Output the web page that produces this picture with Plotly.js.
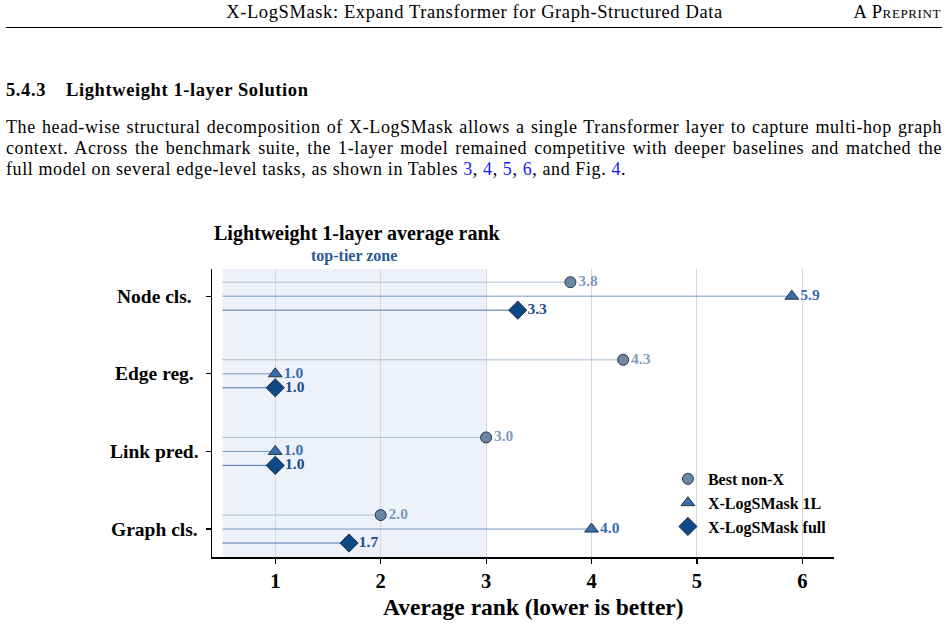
<!DOCTYPE html>
<html>
<head>
<meta charset="utf-8">
<script src="https://cdn.plot.ly/plotly-3.0.1.min.js"></script>
<style>
  html, body { margin: 0; padding: 0; background: #fff; }
  body { width: 948px; height: 626px; position: relative; overflow: hidden;
         font-family: "Liberation Serif", "DejaVu Serif", serif; color: #000; }
  .runhead { position: absolute; top: 2px; left: 0; width: 948px; height: 22px;
             font-size: 18.5px; letter-spacing: 0.6px; }
  .runhead .title { position: absolute; left: 0; width: 949px; text-align: center; top: 0; }
  .runhead .pre { position: absolute; right: 7px; top: 0; font-variant: small-caps; letter-spacing: 0.6px; }
  .rule { position: absolute; top: 27px; left: 6px; width: 936px; height: 0; border-top: 1.2px solid #000; }
  h3 { position: absolute; margin: 0; top: 80px; left: 6px; font-size: 18.5px; font-weight: bold;
       letter-spacing: 0.6px; }
  h3 .num { margin-right: 20px; }
  .para { position: absolute; top: 117px; left: 6px; width: 936px; font-size: 18px;
          letter-spacing: 0.6px; line-height: 21px; }
  .para .ln { height: 21px; white-space: nowrap; text-align: justify; text-align-last: justify; }
  .para .ln.last { text-align-last: left; }
  .para a { color: #1a1aff; text-decoration: none; }
  #chart { position: absolute; left: 0; top: 215px; width: 948px; height: 411px; }
</style>
</head>
<body>
<div class="runhead"><span class="title">X-LogSMask: Expand Transformer for Graph-Structured Data</span><span class="pre">A Preprint</span></div>
<div class="rule"></div>
<h3><span class="num">5.4.3</span>Lightweight 1-layer Solution</h3>
<div class="para">
  <div class="ln">The head-wise structural decomposition of X-LogSMask allows a single Transformer layer to capture multi-hop graph</div>
  <div class="ln">context. Across the benchmark suite, the 1-layer model remained competitive with deeper baselines and matched the</div>
  <div class="ln last">full model on several edge-level tasks, as shown in Tables <a href="#">3</a>, <a href="#">4</a>, <a href="#">5</a>, <a href="#">6</a>, and Fig. <a href="#">4</a>.</div>
</div>
<div id="chart"></div>
<script>
// Task families (top to bottom) and average ranks per model
const tasks = ["Node cls.", "Edge reg.", "Link pred.", "Graph cls."];
const bestNonX = [3.8, 4.3, 3.0, 2.0];
const xls1L = [5.9, 1.0, 1.0, 4.0];
const xlsFull = [3.3, 1.0, 1.0, 1.7];
const seriesNames = ["Best non-X", "X-LogSMask 1L", "X-LogSMask full"];
const xTicks = [1, 2, 3, 4, 5, 6];
const stemStart = 0.5;
const zoneEnd = 3;

const serif = "Liberation Serif, Times New Roman, serif";
const series = [
  { vals: bestNonX, off: -0.18, symbol: "circle", size: 11, fill: "#6c87a5", stem: "#aabdd3", label: "#7f9bbb" },
  { vals: xls1L, off: 0, symbol: "triangle-up", size: 12, fill: "#3a6dab", stem: "#7299c6", label: "#3a6dab" },
  { vals: xlsFull, off: 0.18, symbol: "diamond", size: 14, fill: "#0f4787", stem: "#4a74ab", label: "#1a4c8b" }
];

const traces = [];
series.forEach((s) => {
  // stems from the left edge of the zone to each value
  const sx = [], sy = [];
  s.vals.forEach((v, i) => { sx.push(stemStart, v, null); sy.push(i + s.off, i + s.off, null); });
  traces.push({ x: sx, y: sy, mode: "lines", line: { color: s.stem, width: 1 },
                showlegend: false, hoverinfo: "skip" });
});
series.forEach((s, k) => {
  traces.push({
    x: s.vals, y: s.vals.map((v, i) => i + s.off),
    mode: "markers+text", name: seriesNames[k],
    text: s.vals.map(v => v.toFixed(1)), textposition: "middle right",
    textfont: { family: serif, size: 15.5, weight: 700, color: s.label },
    marker: { symbol: s.symbol, size: s.size, color: s.fill, line: { color: "#233447", width: 1 } },
    cliponaxis: false
  });
});

// category labels, centred in the left margin
const taskLabels = tasks.map((t, i) => ({
  text: t, xref: "paper", yref: "y", x: -0.093, y: i, xanchor: "center", yanchor: "middle",
  showarrow: false, font: { family: serif, size: 19.5, weight: 700, color: "#000" }
}));

const layout = {
  width: 948, height: 411,
  margin: { l: 212, r: 114, t: 54, b: 69 },
  paper_bgcolor: "rgba(0,0,0,0)", plot_bgcolor: "#ffffff",
  font: { family: serif, color: "#000" },
  xaxis: {
    range: [0.4, 6.3], tickvals: xTicks, ticks: "outside", ticklen: 5, tickwidth: 1.2, tickcolor: "#000",
    tickfont: { family: serif, size: 20.5, weight: 700 },
    showgrid: true, gridcolor: "#d3d8de", gridwidth: 1, zeroline: false,
    showline: true, linecolor: "#000", linewidth: 1.5
  },
  yaxis: {
    range: [3.36, -0.35], tickvals: tasks.map((t, i) => i), showticklabels: false,
    ticks: "outside", ticklen: 5, tickwidth: 1.2, tickcolor: "#000",
    showgrid: false, zeroline: false, showline: true, linecolor: "#000", linewidth: 1.5
  },
  shapes: [{
    type: "rect", layer: "below", xref: "x", yref: "paper",
    x0: stemStart, x1: zoneEnd, y0: 0, y1: 1, fillcolor: "#edf1f9", line: { width: 0 }
  }],
  annotations: [
    { text: "Lightweight 1-layer average rank", xref: "paper", yref: "paper", x: 0, y: 1.125,
      xanchor: "left", yanchor: "middle", showarrow: false,
      font: { family: serif, size: 20, weight: 700, color: "#000" } },
    { text: "top-tier zone", xref: "x", yref: "paper", x: (stemStart + zoneEnd) / 2, y: 1.045,
      xanchor: "center", yanchor: "middle", showarrow: false,
      font: { family: serif, size: 16, weight: 700, color: "#2a5a94" } },
    { text: "Average rank (lower is better)", xref: "paper", yref: "paper", x: 0.5175, y: -0.174,
      xanchor: "center", yanchor: "middle", showarrow: false,
      font: { family: serif, size: 23.5, weight: 700, color: "#000" } }
  ].concat(taskLabels),
  legend: {
    x: 0.733, y: 0.33, xanchor: "left", yanchor: "top", bgcolor: "rgba(0,0,0,0)",
    font: { family: serif, size: 16, weight: 700, color: "#000" }
  },
  showlegend: true
};

Plotly.newPlot("chart", traces, layout, { displayModeBar: false, staticPlot: true });
</script>
</body>
</html>
